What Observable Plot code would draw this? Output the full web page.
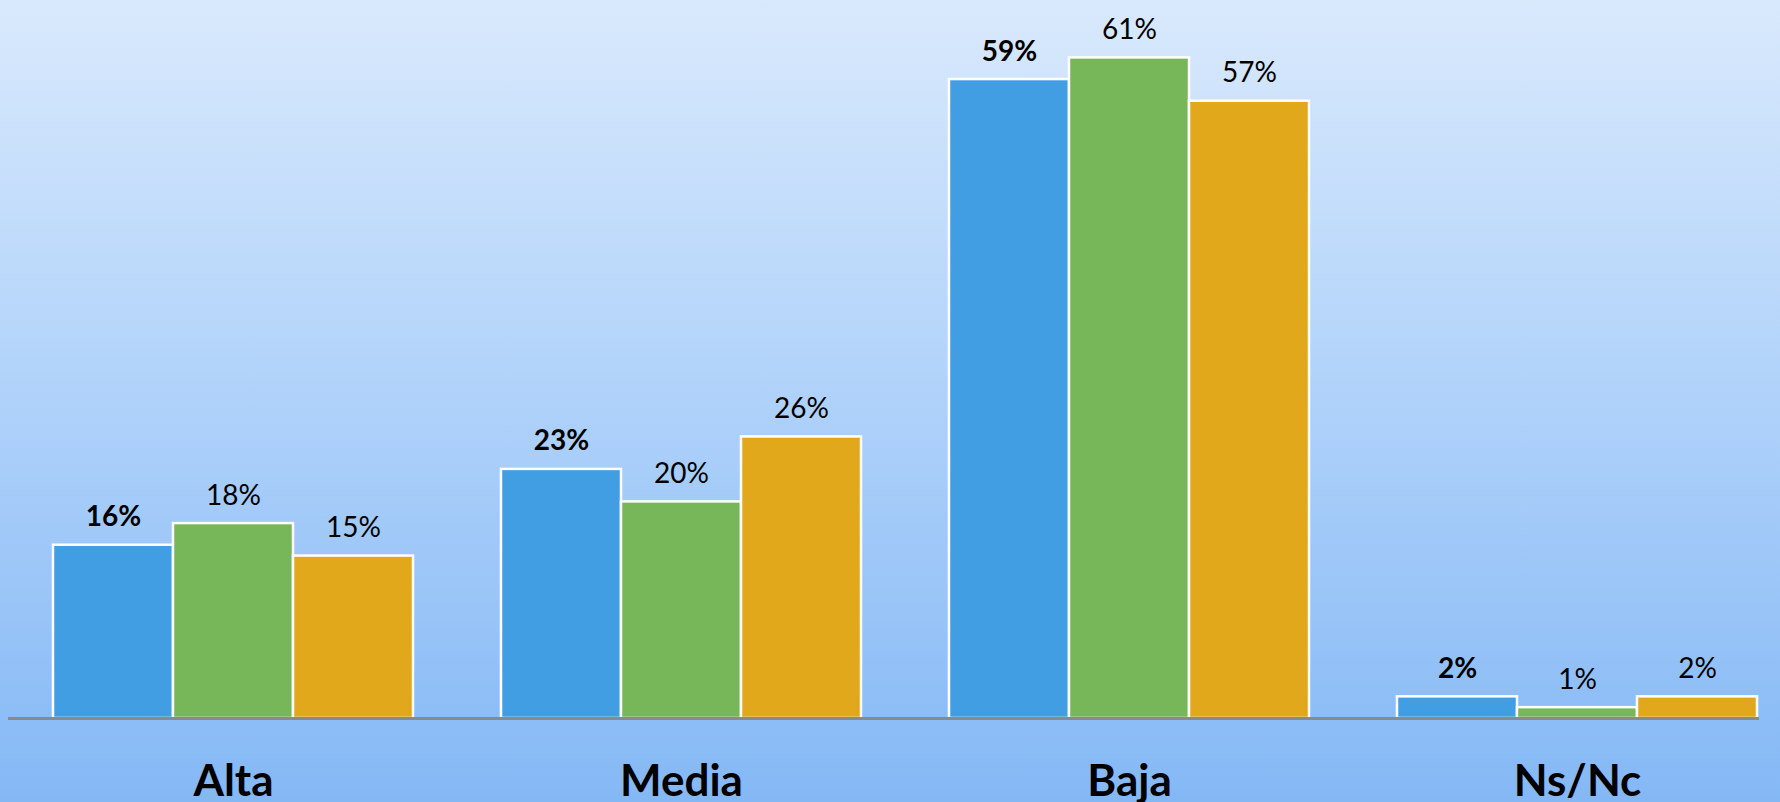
<!DOCTYPE html>
<html>
<head>
<meta charset="utf-8">
<script src="https://cdn.jsdelivr.net/npm/d3@7"></script>
<script src="https://cdn.jsdelivr.net/npm/@observablehq/plot@0.6"></script>
<style>
  html, body { margin: 0; padding: 0; }
  body { width: 1780px; height: 802px; overflow: hidden;
         background: linear-gradient(180deg, #d9e9fc 0%, #b3d4fa 45%, #84b8f5 100%); }
  #chart svg { display: block; }
</style>
</head>
<body>
<div id="chart"></div>
<script>
const categories = ["Alta", "Media", "Baja", "Ns/Nc"];
const series = ["Serie 1", "Serie 2", "Serie 3"];
const serie1 = [16, 23, 59, 2];
const serie2 = [18, 20, 61, 1];
const serie3 = [15, 26, 57, 2];
const colors = ["#419ee2", "#78b65a", "#e2a81b"];

const values = [serie1, serie2, serie3];
const data = [];
categories.forEach((c, i) => {
  series.forEach((s, j) => data.push({cat: c, serie: s, value: values[j][i]}));
});

const font = "Lato, 'Open Sans', sans-serif";

const chart = Plot.plot({
  width: 1780,
  height: 802,
  marginTop: 0,
  marginBottom: 84,
  marginLeft: 9,
  marginRight: 23,
  style: {background: "transparent", fontFamily: font, color: "#000"},
  fx: {domain: categories, range: [9, 1801], paddingInner: 0.196, paddingOuter: 0.098, label: null},
  x: {domain: series, padding: 0, axis: null},
  y: {domain: [0, 66.3], axis: null},
  color: {domain: series, range: colors},
  marks: [
    Plot.barY(data, {fx: "cat", x: "serie", y: "value", fill: "serie", stroke: "white", strokeWidth: 2.5}),
    Plot.text(data.filter(d => d.serie === series[0]), {fx: "cat", x: "serie", y: "value", text: d => d.value + "%", lineAnchor: "bottom", dy: -19, fontSize: 28, fontWeight: "bold", fill: "#000"}),
    Plot.text(data.filter(d => d.serie !== series[0]), {fx: "cat", x: "serie", y: "value", text: d => d.value + "%", lineAnchor: "bottom", dy: -19, fontSize: 28, fill: "#000"}),
    Plot.frame({facet: "super", anchor: "bottom", insetLeft: -44, stroke: "#8a8a8a", strokeWidth: 3}),
    Plot.axisFx({anchor: "bottom", tickSize: 0, tickPadding: 46, fontSize: 44, fontWeight: "bold", label: null})
  ]
});
document.getElementById("chart").appendChild(chart);
</script>
</body>
</html>
